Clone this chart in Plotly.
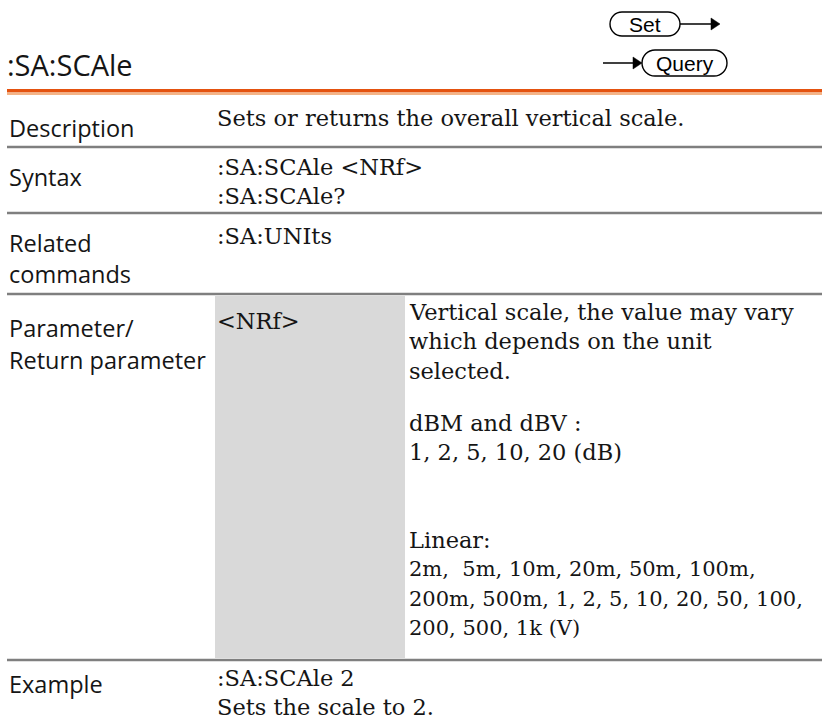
import plotly.graph_objects as go

# ---------------- content ----------------
title = ":SA:SCAle"
set_label = "Set"
query_label = "Query"

row_labels = [
    ["Description"],
    ["Syntax"],
    ["Related", "commands"],
    ["Parameter/", "Return parameter"],
    ["Example"],
]
description_lines = ["Sets or returns the overall vertical scale."]
syntax_lines = [":SA:SCAle <NRf>", ":SA:SCAle?"]
related_lines = [":SA:UNIts"]
param_name = "<NRf>"
param_paragraphs = [
    ["Vertical scale, the value may vary", "which depends on the unit", "selected."],
    ["dBM and dBV :", "1, 2, 5, 10, 20 (dB)"],
    ["Linear:", "2m,\u00a0 5m, 10m, 20m, 50m, 100m,",
     "200m, 500m, 1, 2, 5, 10, 20, 50, 100,", "200, 500, 1k (V)"],
]
example_lines = [":SA:SCAle 2", "Sets the scale to 2."]

# ---------------- layout ----------------
W, H = 822, 720
SANS = "Open Sans"
SERIF = "DejaVu Serif"
INK = "#151515"
LEFT_X = 7
COL2_X = 215
COL3_X = 407
STEP = 29.3
SER = 22.5
SER_NUM = 21

shapes = []
annotations = []


def txt(x, y, s, family, size, anchor="left", color=INK):
    annotations.append(dict(x=x, y=y, xref="x", yref="y", text=s, showarrow=False,
                            xanchor=anchor, yanchor="middle",
                            font=dict(family=family, size=size, color=color)))


def hline(y, color="#7f7f7f", width=2.5):
    shapes.append(dict(type="line", xref="x", yref="y", x0=LEFT_X, x1=W, y0=y, y1=y,
                       line=dict(color=color, width=width)))


def pill(x0, x1, y0, y1):
    r = (y1 - y0) / 2
    k = 0.5523 * r
    cy = (y0 + y1) / 2
    p = (f"M{x0+r},{y0} L{x1-r},{y0} "
         f"C{x1-r+k},{y0} {x1},{cy-k} {x1},{cy} "
         f"C{x1},{cy+k} {x1-r+k},{y1} {x1-r},{y1} "
         f"L{x0+r},{y1} "
         f"C{x0+r-k},{y1} {x0},{cy+k} {x0},{cy} "
         f"C{x0},{cy-k} {x0+r-k},{y0} {x0+r},{y0} Z")
    shapes.append(dict(type="path", xref="x", yref="y", path=p,
                       line=dict(color="black", width=1.4), fillcolor="white"))


def arrow(xa, xb, y):
    shapes.append(dict(type="line", xref="x", yref="y", x0=xa, x1=xb - 6, y0=y, y1=y,
                       line=dict(color="black", width=1.6)))
    shapes.append(dict(type="path", xref="x", yref="y",
                       path=f"M{xb},{y} L{xb-9},{y-6} L{xb-9},{y+6} Z",
                       line=dict(color="black", width=0.5), fillcolor="black"))


# title
txt(LEFT_X - 2, 64, title, SANS, 29)

# Set / Query icons
pill(610, 680, 12, 36)
arrow(680, 720, 24)
txt(645, 24, set_label, "Liberation Sans", 21, anchor="center", color="black")
pill(642, 727, 50, 76)
arrow(603, 642, 63)
txt(684.5, 63, query_label, "Liberation Sans", 21, anchor="center", color="black")

# orange rule
shapes.append(dict(type="rect", xref="x", yref="y", x0=LEFT_X, x1=W, y0=89, y1=92.5,
                   line=dict(width=0), fillcolor="#E4520F"))
shapes.append(dict(type="rect", xref="x", yref="y", x0=LEFT_X, x1=W, y0=92.5, y1=95,
                   line=dict(width=0), fillcolor="#F4B487"))

# gray parameter box
shapes.append(dict(type="rect", xref="x", yref="y", x0=COL2_X, x1=405, y0=296, y1=658,
                   line=dict(width=0), fillcolor="#D9D9D9", layer="below"))

# separators
for y in [147, 213, 294, 660]:
    hline(y)

# left labels
label_y = [[128], [177], [243, 274], [328, 360], [684]]
for lines, ys in zip(row_labels, label_y):
    for s, y in zip(lines, ys):
        txt(LEFT_X, y, s, SANS, 23.5)

# description
for i, s in enumerate(description_lines):
    txt(COL2_X, 118 + i * STEP, s, SERIF, SER)
# syntax
for i, s in enumerate(syntax_lines):
    txt(COL2_X, 167 + i * STEP, s, SERIF, SER)
# related
for i, s in enumerate(related_lines):
    txt(COL2_X, 236 + i * STEP, s, SERIF, SER)
# parameter
txt(COL2_X, 321, param_name, SERIF, SER)
para_start = [312, 423, 540]
for start, para in zip(para_start, param_paragraphs):
    for i, s in enumerate(para):
        size = SER_NUM if (start == para_start[-1] and i > 0) else SER
        txt(COL3_X, start + i * STEP, s, SERIF, size)
# example
for i, s in enumerate(example_lines):
    txt(COL2_X, 678 + i * STEP, s, SERIF, SER)

fig = go.Figure()
fig.update_layout(
    width=W, height=H, margin=dict(l=0, r=0, t=0, b=0),
    paper_bgcolor="white", plot_bgcolor="white",
    xaxis=dict(range=[0, W], visible=False, fixedrange=True),
    yaxis=dict(range=[H, 0], visible=False, fixedrange=True),
    shapes=shapes, annotations=annotations, showlegend=False,
)
fig.write_html(
    "out.html",
    config={"displayModeBar": False},
    post_script="document.body.style.margin='0';document.body.style.overflow='hidden';",
)
